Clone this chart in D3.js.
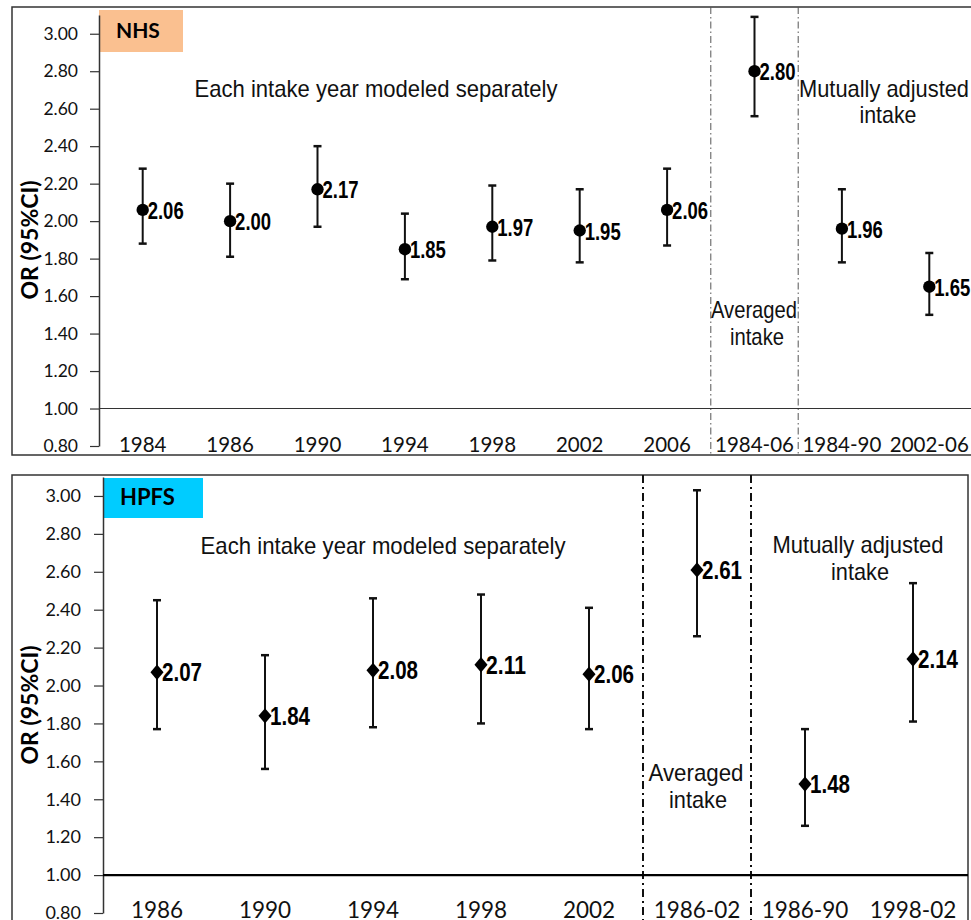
<!DOCTYPE html>
<html>
<head>
<meta charset="utf-8">
<script src="https://cdn.jsdelivr.net/npm/d3@7"></script>
<style>
	body { margin: 0; background: #fff; }
	svg { display: block; }
	.tick text { font-family: Lato, "Open Sans", sans-serif; fill: #111; }
	.narrow { font-family: "Liberation Sans Narrow", "Arial Narrow", "Liberation Sans", sans-serif; }
</style>
</head>
<body>
<svg id="chart" width="971" height="920"></svg>
<script>
// NHS (women)
const nhsCats = ['1984', '1986', '1990', '1994', '1998', '2002', '2006', '1984-06', '1984-90', '2002-06'];
const nhsOR = [2.06, 2.00, 2.17, 1.85, 1.97, 1.95, 2.06, 2.80, 1.96, 1.65];
const nhsLo = [1.88, 1.81, 1.97, 1.69, 1.79, 1.78, 1.87, 2.56, 1.78, 1.50];
const nhsHi = [2.28, 2.20, 2.40, 2.04, 2.19, 2.17, 2.28, 3.09, 2.17, 1.83];

// HPFS (men)
const hpfsCats = ['1986', '1990', '1994', '1998', '2002', '1986-02', '1986-90', '1998-02'];
const hpfsOR = [2.07, 1.84, 2.08, 2.11, 2.06, 2.61, 1.48, 2.14];
const hpfsLo = [1.77, 1.56, 1.78, 1.80, 1.77, 2.26, 1.26, 1.81];
const hpfsHi = [2.45, 2.16, 2.46, 2.48, 2.41, 3.03, 1.77, 2.54];

const yTicks = [0.8, 1.0, 1.2, 1.4, 1.6, 1.8, 2.0, 2.2, 2.4, 2.6, 2.8, 3.0];

let chart;

window.onload = function () {
	chart = d3.select('#chart');

	drawPanel({
		name: 'NHS', boxColor: '#fac090',
		cats: nhsCats, or: nhsOR, lo: nhsLo, hi: nhsHi,
		frame: [12, 7, 975, 448],
		axisX: 99, step: 87.4, yBottom: 446, yTop: 15,
		tickFont: 17.5, tickPad: 12, catFont: 20.5, catY: 452,
		valFont: 24, valLen: 36, marker: 'circle',
		refWidth: 1.2, refColor: '#333',
		divIdx: [7, 8], divStyle: { w: 1, c: '#555', dash: '7,3,1.5,3' },
		box: [99, 10, 84, 42], boxFont: 21,
		titleY: 240,
		notes: [
			{ x: 376, y: 97, t: 'Each intake year modeled separately', len: 363 },
			{ x: 754, y: 318, t: 'Averaged', len: 86 },
			{ x: 757, y: 345, t: 'intake', len: 54 },
			{ x: 884, y: 97, t: 'Mutually adjusted', len: 170 },
			{ x: 888, y: 123, t: 'intake', len: 57 }
		]
	});

	drawPanel({
		name: 'HPFS', boxColor: '#00ccff',
		cats: hpfsCats, or: hpfsOR, lo: hpfsLo, hi: hpfsHi,
		frame: [12, 475, 956, 460],
		axisX: 103, step: 108, yBottom: 913, yTop: 477,
		tickFont: 18, tickPad: 13, catFont: 22.5, catY: 918,
		valFont: 25, valLen: 40, marker: 'diamond',
		refWidth: 2.2, refColor: '#000',
		divIdx: [5, 6], divStyle: { w: 2, c: '#111', dash: '8,4,2,4' },
		box: [103, 478, 100, 40], boxFont: 22,
		titleY: 705,
		notes: [
			{ x: 383, y: 554, t: 'Each intake year modeled separately', len: 365 },
			{ x: 696, y: 781, t: 'Averaged', len: 95 },
			{ x: 698, y: 808, t: 'intake', len: 58 },
			{ x: 858, y: 553, t: 'Mutually adjusted', len: 171 },
			{ x: 860, y: 580, t: 'intake', len: 58 }
		]
	});
}

function drawPanel(p) {
	let g = chart.append('g');
	let n = p.cats.length;

	let xScale = d3.scaleBand()
		.domain(p.cats)
		.range([p.axisX, p.axisX + n * p.step]);

	let yScale = d3.scaleLinear()
		.domain([0.8, 3.1])
		.range([p.yBottom, p.yTop]);

	// frame
	g.append('rect')
		.attr('x', p.frame[0]).attr('y', p.frame[1])
		.attr('width', p.frame[2]).attr('height', p.frame[3])
		.attr('fill', 'none')
		.attr('stroke', '#333')
		.attr('stroke-width', 1.5);

	// cohort label box
	g.append('rect')
		.attr('x', p.box[0]).attr('y', p.box[1])
		.attr('width', p.box[2]).attr('height', p.box[3])
		.attr('fill', p.boxColor);

	g.append('text')
		.attr('x', p.box[0] + 17)
		.attr('y', p.box[1] + p.box[3] / 2 + 7)
		.style('font-family', 'Lato, "Open Sans", sans-serif')
		.style('font-weight', 'bold')
		.style('font-size', p.boxFont + 'px')
		.text(p.name);

	// divider lines
	p.divIdx.forEach(i => {
		let xd = xScale(p.cats[i]);
		g.append('line')
			.attr('x1', xd).attr('x2', xd)
			.attr('y1', p.frame[1]).attr('y2', p.frame[1] + p.frame[3])
			.attr('stroke', p.divStyle.c)
			.attr('stroke-width', p.divStyle.w)
			.attr('stroke-dasharray', p.divStyle.dash);
	});

	// y axis
	let yAxis = d3.axisLeft(yScale)
		.tickValues(yTicks)
		.tickFormat(d3.format('.2f'))
		.tickSizeInner(9)
		.tickSizeOuter(0)
		.tickPadding(p.tickPad);

	let yAxisGroup = g.append('g')
		.attr('transform', `translate(${p.axisX},0)`)
		.call(yAxis);
	yAxisGroup.select('.domain').attr('stroke', '#333').attr('stroke-width', 1.5);
	yAxisGroup.selectAll('.tick line').attr('stroke', '#333').attr('stroke-width', 1.2);
	yAxisGroup.selectAll('.tick text').style('font-size', p.tickFont + 'px');

	// reference line at 1.00
	g.append('line')
		.attr('x1', p.axisX).attr('x2', p.frame[0] + p.frame[2])
		.attr('y1', yScale(1)).attr('y2', yScale(1))
		.attr('stroke', p.refColor)
		.attr('stroke-width', p.refWidth);

	// y label
	g.append('text')
		.attr('transform', `translate(38,${p.titleY}) rotate(-90)`)
		.style('text-anchor', 'middle')
		.style('font-family', 'Lato, "Open Sans", sans-serif')
		.style('font-weight', 'bold')
		.style('font-size', '23px')
		.text('OR (95%CI)');

	// category labels
	g.selectAll('.cat')
		.data(p.cats)
		.enter()
		.append('text')
		.attr('x', d => xScale(d) + xScale.bandwidth() / 2)
		.attr('y', p.catY)
		.style('text-anchor', 'middle')
		.style('font-family', 'Lato, "Open Sans", sans-serif')
		.style('font-size', p.catFont + 'px')
		.attr('fill', '#111')
		.text(d => d);

	// notes
	p.notes.forEach(nt => {
		g.append('text')
			.attr('class', 'narrow')
			.attr('x', nt.x).attr('y', nt.y)
			.style('text-anchor', 'middle')
			.style('font-size', '24px')
			.attr('fill', '#111')
			.attr('textLength', nt.len)
			.attr('lengthAdjust', 'spacingAndGlyphs')
			.text(nt.t);
	});

	let rows = p.cats.map((c, i) => ({ cat: c, or: p.or[i], lo: p.lo[i], hi: p.hi[i] }));
	let cx = d => xScale(d.cat) + xScale.bandwidth() / 2;

	// error bars
	let eb = g.selectAll('.eb').data(rows).enter().append('g');
	eb.append('line')
		.attr('x1', cx).attr('x2', cx)
		.attr('y1', d => yScale(d.lo)).attr('y2', d => yScale(d.hi))
		.attr('stroke', '#111').attr('stroke-width', 2);
	['lo', 'hi'].forEach(k => {
		eb.append('line')
			.attr('x1', d => cx(d) - 4).attr('x2', d => cx(d) + 4)
			.attr('y1', d => yScale(d[k])).attr('y2', d => yScale(d[k]))
			.attr('stroke', '#111').attr('stroke-width', 2.5);
	});

	// markers
	let sym = p.marker === 'circle' ? d3.symbolCircle : d3.symbolDiamond;
	let size = p.marker === 'circle' ? 120 : 95;
	g.selectAll('.pt').data(rows).enter()
		.append('path')
		.attr('d', d3.symbol().type(sym).size(size))
		.attr('transform', d => p.marker === 'circle'
			? `translate(${cx(d)},${yScale(d.or)})`
			: `translate(${cx(d)},${yScale(d.or)}) scale(1.25,0.85)`)
		.attr('fill', '#000');

	// value labels
	g.selectAll('.val').data(rows).enter()
		.append('text')
		.attr('class', 'narrow')
		.attr('x', d => cx(d) + 5)
		.attr('y', d => yScale(d.or) + 9)
		.style('font-size', p.valFont + 'px')
		.style('font-weight', 'bold')
		.attr('fill', '#000')
		.attr('textLength', p.valLen)
		.attr('lengthAdjust', 'spacingAndGlyphs')
		.text(d => d3.format('.2f')(d.or));
}
</script>
</body>
</html>
